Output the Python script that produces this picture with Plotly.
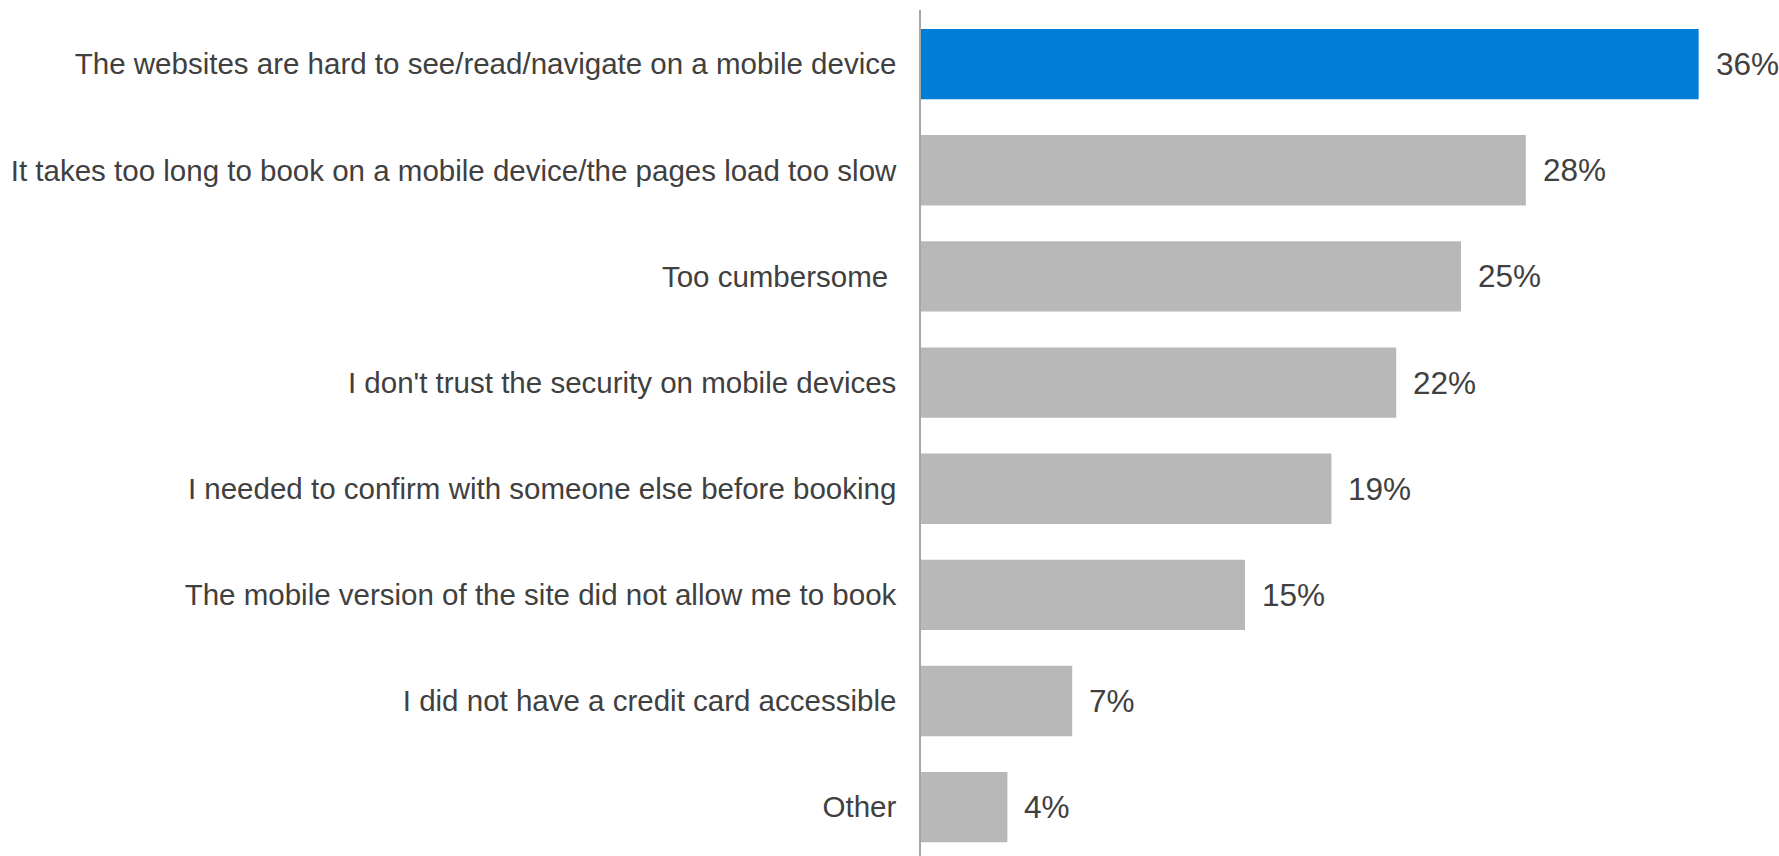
import plotly.graph_objects as go

categories = [
    "The websites are hard to see/read/navigate on a mobile device",
    "It takes too long to book on a mobile device/the pages load too slow",
    "Too cumbersome\u00a0",
    "I don't trust the security on mobile devices",
    "I needed to confirm with someone else before booking",
    "The mobile version of the site did not allow me to book",
    "I did not have a credit card accessible",
    "Other",
]
values = [36, 28, 25, 22, 19, 15, 7, 4]
value_labels = ["36%", "28%", "25%", "22%", "19%", "15%", "7%", "4%"]
highlight_color = "#007DD7"
base_color = "#B8B8B8"
colors = [highlight_color] + [base_color] * (len(categories) - 1)

FONT = "Liberation Sans, Arial, sans-serif"
TEXT_COLOR = "#404040"

fig = go.Figure(
    go.Bar(
        x=values,
        y=categories,
        orientation="h",
        marker=dict(color=colors, line=dict(width=0)),
        hoverinfo="x+y",
    )
)

annotations = [
    dict(
        x=v, y=c, text=t, xref="x", yref="y",
        xanchor="left", yanchor="middle", showarrow=False, xshift=15,
        font=dict(family=FONT, size=31.5, color=TEXT_COLOR),
    )
    for v, c, t in zip(values, categories, value_labels)
]

fig.update_layout(
    width=1779,
    height=856,
    margin=dict(l=921, r=0, t=10, b=0),
    paper_bgcolor="white",
    plot_bgcolor="white",
    bargap=0.337,
    showlegend=False,
    annotations=annotations,
    font=dict(family=FONT, size=29.5, color=TEXT_COLOR),
    xaxis=dict(
        range=[0, 39.72],
        showgrid=False,
        zeroline=False,
        showline=False,
        showticklabels=False,
        ticks="",
    ),
    yaxis=dict(
        type="category",
        categoryorder="array",
        categoryarray=categories,
        range=[7.46, -0.51],
        showgrid=False,
        zeroline=False,
        showline=True,
        linecolor="#A6A6A6",
        linewidth=1.5,
        ticks="",
        ticklabelstandoff=17,
        tickfont=dict(family=FONT, size=29.5, color=TEXT_COLOR),
        automargin=False,
    ),
)

fig.write_html("out.html")
